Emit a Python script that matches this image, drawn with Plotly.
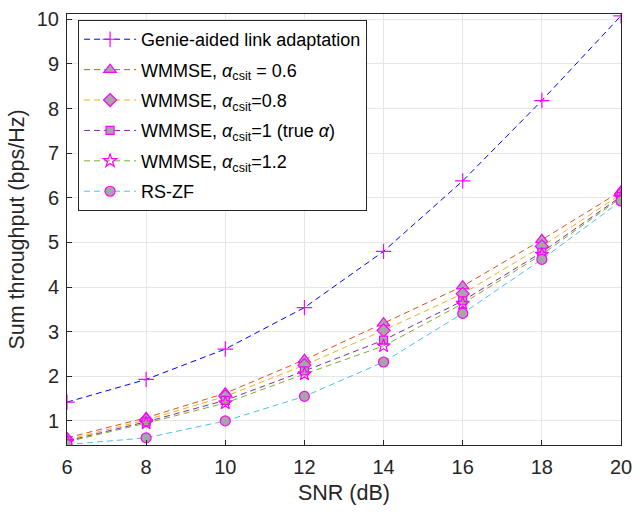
import plotly.graph_objects as go

snr = [6, 8, 10, 12, 14, 16, 18, 20]
genie = [1.42, 1.93, 2.61, 3.54, 4.80, 6.38, 8.18, 10.08]
wm06 = [0.62, 1.07, 1.62, 2.37, 3.19, 4.02, 5.06, 6.15]
wm08 = [0.58, 1.02, 1.55, 2.25, 3.03, 3.85, 4.91, 6.08]
wm10 = [0.55, 0.98, 1.46, 2.12, 2.81, 3.69, 4.78, 6.03]
wm12 = [0.53, 0.95, 1.40, 2.05, 2.68, 3.63, 4.73, 6.00]
rszf = [0.47, 0.62, 1.00, 1.55, 2.32, 3.41, 4.62, 5.93]

names = [
    "Genie-aided link adaptation",
    "WMMSE, <i>α</i><sub>csit</sub> = 0.6",
    "WMMSE, <i>α</i><sub>csit</sub>=0.8",
    "WMMSE, <i>α</i><sub>csit</sub>=1 (true <i>α</i>)",
    "WMMSE, <i>α</i><sub>csit</sub>=1.2",
    "RS-ZF",
]
series = [genie, wm06, wm08, wm10, wm12, rszf]
colors = ["#0000FF", "#D95319", "#EDB120", "#7E2F8E", "#77AC30", "#4DBEEE"]
symbols = ["cross-thin", "triangle-up", "diamond", "square", "star", "circle"]
sizes = [11, 11, 10, 8, 10, 10]
fills = [None, "#A6A6A6", "#A6A6A6", "#A6A6A6", "rgba(0,0,0,0)", "#A6A6A6"]

fig = go.Figure()
for i, (n, ys, c, s, sz, f) in enumerate(zip(names, series, colors, symbols, sizes, fills)):
    marker = dict(symbol=s, size=sz, line=dict(color="#FF00FF", width=1.2))
    marker["color"] = "#FF00FF" if f is None else f
    fig.add_trace(go.Scatter(
        x=snr, y=ys, name=n, mode="lines+markers", legendgroup=f"g{i}",
        line=dict(color=c, width=1, dash="6px,4px"),
        marker=marker,
    ))

axis_common = dict(
    showline=True, linecolor="#262626", linewidth=1, mirror=True,
    ticks="inside", ticklen=5, tickcolor="#262626",
    showgrid=True, gridcolor="#E6E6E6", gridwidth=1,
    zeroline=False, tickfont=dict(size=20, color="#262626"),
)

fig.update_layout(
    width=640, height=512,
    margin=dict(l=67, r=12, t=8, b=67),
    paper_bgcolor="white", plot_bgcolor="white",
    font=dict(family="Liberation Sans, Arial, sans-serif", color="#262626"),
    xaxis=dict(range=[6, 20], tickvals=[6, 8, 10, 12, 14, 16, 18, 20],
               ticklabelstandoff=4,
               title=dict(text="SNR (dB)", font=dict(size=21.5), standoff=7),
               **axis_common),
    yaxis=dict(range=[0.46, 10.12], tickvals=list(range(1, 11)),
               ticklabelstandoff=3,
               title=dict(text="Sum throughput (bps/Hz)", font=dict(size=21.5), standoff=6),
               **axis_common),
    legend=dict(x=0.02, y=0.986, xanchor="left", yanchor="top",
                bgcolor="white", bordercolor="#262626", borderwidth=1,
                font=dict(size=18, color="#000000"), tracegroupgap=4,
                itemwidth=52),
    showlegend=True,
)

fig.write_html("out.html")
